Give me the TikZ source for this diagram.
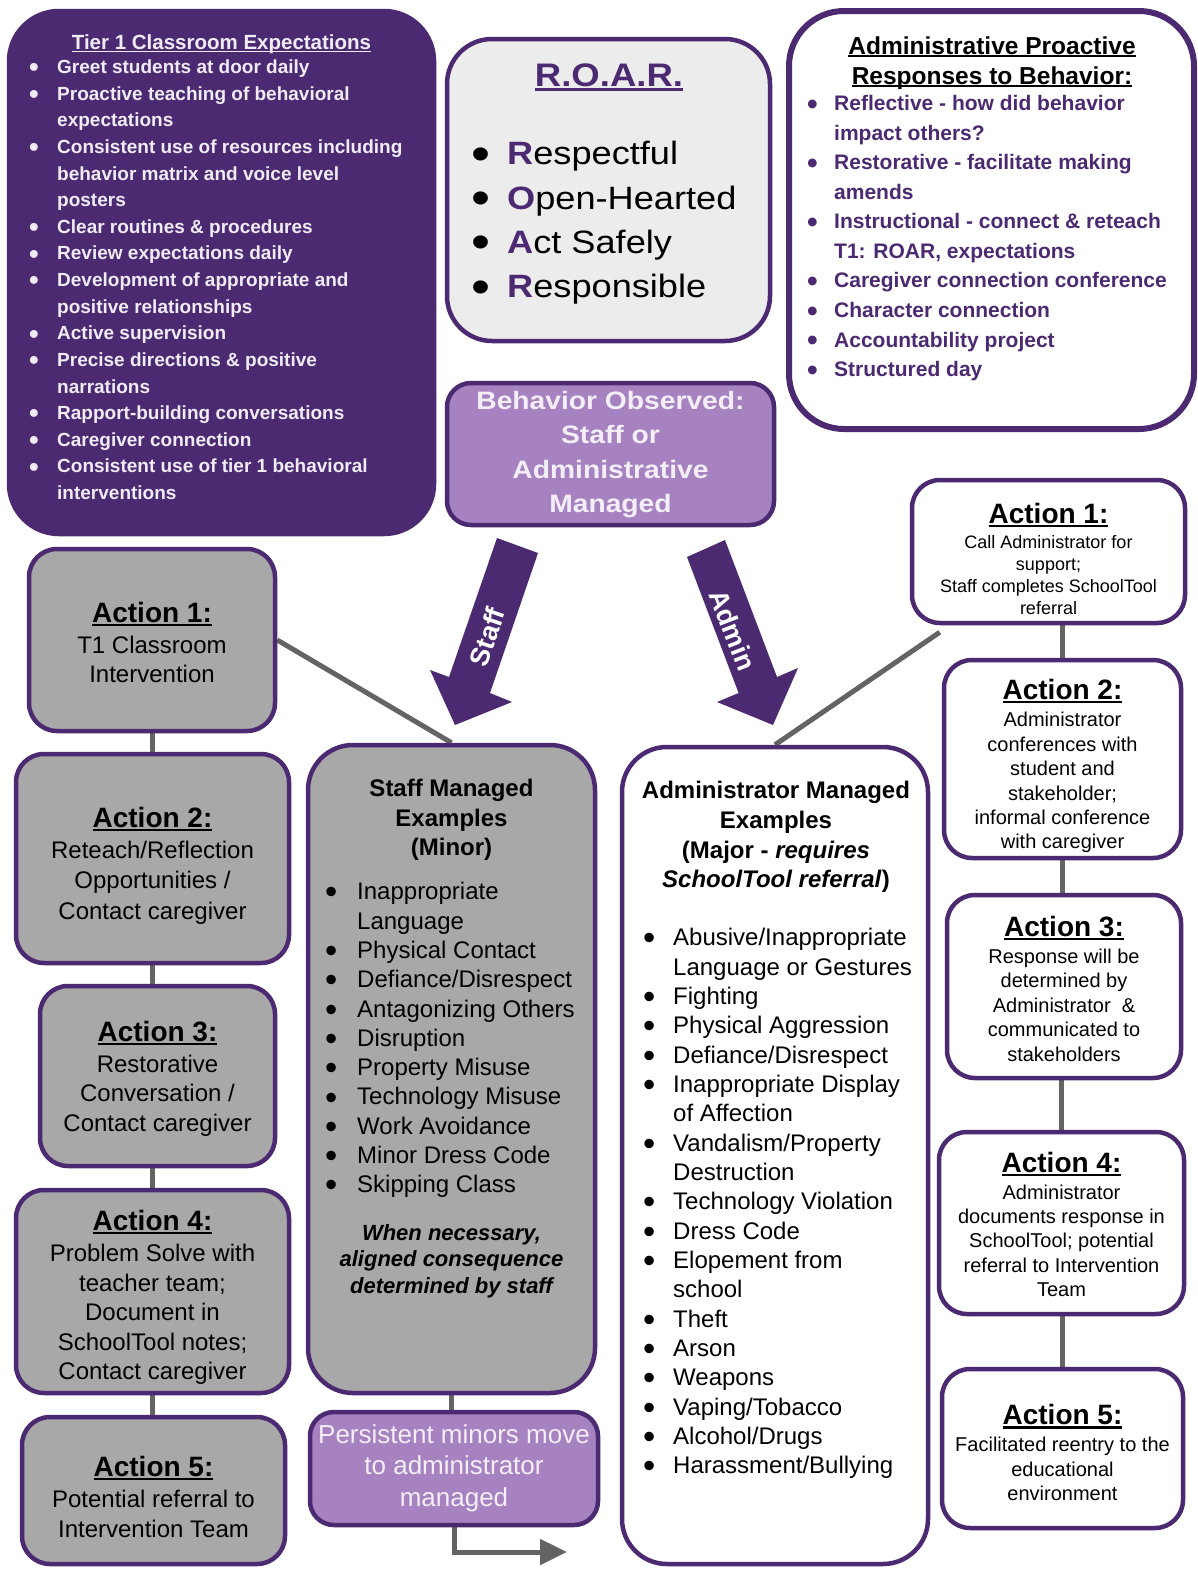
\documentclass[tikz,border=0pt]{standalone}
\usepackage{fontspec}
\setmainfont{Liberation Sans}
\newfontfamily\widefont[FakeStretch=1.12]{Liberation Sans}
\usetikzlibrary{arrows.meta,backgrounds}

\definecolor{roarpurple}{RGB}{76,42,114}
\definecolor{lilac}{RGB}{166,131,192}
\definecolor{lilactext}{RGB}{244,238,248}
\definecolor{tiertext}{RGB}{240,236,246}
\definecolor{boxgray}{RGB}{168,168,168}
\definecolor{roargray}{RGB}{236,236,236}
\definecolor{linkgray}{RGB}{100,100,100}

\newcommand{\fsz}[2]{\fontsize{#1}{#2}\selectfont}
\newsavebox{\undlbox}
\newcommand{\undl}[1]{\sbox{\undlbox}{#1}\rlap{\rule[-0.13em]{\wd\undlbox}{0.075em}}\usebox{\undlbox}}
\newlength{\itmw}
\newcommand{\bulscale}{1.45}
\newcommand{\itm}{\strut\makebox[\itmw][l]{\raisebox{-0.17em}{\scalebox{\bulscale}{\textbullet}}}}
\newcommand{\itmc}{\strut\hspace*{\itmw}}
\newcommand{\roarl}[1]{{\bfseries\color{roarpurple}#1}}
\newcommand{\acttitle}[2][36pt]{{\fsz{28}{30}\bfseries\rule{0pt}{#1}\undl{#2}}}

\tikzset{
  box/.style={draw=roarpurple, line width=4.5pt, rounded corners=28pt, inner sep=0pt, align=center},
  graybox/.style={box, fill=boxgray, font=\fsz{24}{29.5}},
  whitebox/.style={box, fill=white, font=\fsz{20}{24.4}},
  lilacbox/.style={box, fill=lilac, text=lilactext, rounded corners=24pt},
  txt/.style={inner sep=0pt},
  link/.style={draw=linkgray, line width=5pt},
  fatarrow/.style={fill=roarpurple},
  arrowlabel/.style={text=white, font=\bfseries\fsz{27}{30}}
}

\begin{document}
\begin{tikzpicture}[x=1pt, y=-1pt]
\useasboundingbox (0,0) rectangle (1197,1569);

% top row
\node[box, fill=roarpurple, rounded corners=50pt, minimum width=425pt, minimum height=523pt] (tier) at (221.5,272.5) {};
\node[txt, anchor=base, text=tiertext, font=\bfseries\fsz{20.5}{26.6}] (tiertitle) at (221.5,49.5) {\undl{Tier 1 Classroom Expectations}};
\node[txt, anchor=north west, align=left, text=tiertext, font={\bfseries\fsz{19}{26.63}\setlength{\itmw}{28pt}}] (tierlist) at (29,54.7) {
  \itm Greet students at door daily\\
  \itm Proactive teaching of behavioral\\
  \itmc expectations\\
  \itm Consistent use of resources including\\
  \itmc behavior matrix and voice level\\
  \itmc posters\\
  \itm Clear routines \& procedures\\
  \itm Review expectations daily\\
  \itm Development of appropriate and\\
  \itmc positive relationships\\
  \itm Active supervision\\
  \itm Precise directions \& positive\\
  \itmc narrations\\
  \itm Rapport-building conversations\\
  \itm Caregiver connection\\
  \itm Consistent use of tier 1 behavioral\\
  \itmc interventions};

\node[box, fill=roargray, rounded corners=45pt, minimum width=323pt, minimum height=302pt] (roar) at (608.5,190) {};
\node[txt, anchor=base, text=roarpurple, font=\widefont\bfseries\fsz{32.6}{36}] (roartitle) at (609,86.7) {\undl{R.O.A.R.}};
\node[txt, anchor=north west, align=left, font={\widefont\fsz{32.3}{44.3}\setlength{\itmw}{36pt}\renewcommand{\bulscale}{1.5}}] (roarlist) at (471,133.6) {
  \itm\roarl{R}espectful\\
  \itm\roarl{O}pen-Hearted\\
  \itm\roarl{A}ct Safely\\
  \itm\roarl{R}esponsible};

\node[box, fill=white, line width=6pt, rounded corners=55pt, minimum width=405pt, minimum height=418pt] (proact) at (991.5,220) {};
\node[txt, anchor=north, align=center, font=\bfseries\fsz{24.5}{30}] (proacttitle) at (992,32.8) {\strut\undl{Administrative Proactive}\\ \strut\undl{Responses to Behavior:}};
\node[txt, anchor=north west, align=left, text=roarpurple, font={\bfseries\fsz{21}{29.55}\setlength{\itmw}{27pt}}] (proactlist) at (807,89.8) {
  \itm Reflective - how did behavior\\
  \itmc impact others?\\
  \itm Restorative - facilitate making\\
  \itmc amends\\
  \itm Instructional - connect \& reteach\\
  \itmc T1: ROAR, expectations\\
  \itm Caregiver connection conference\\
  \itm Character connection\\
  \itm Accountability project\\
  \itm Structured day};

\node[lilacbox, minimum width=327pt, minimum height=142pt, font=\widefont\bfseries\fsz{25.2}{34.3}] (obs) at (610.5,454) {\strut Behavior Observed:\\ \strut Staff or\\ \strut Administrative\\ \strut Managed};

% staff / admin arrows
\fill[fatarrow] (497,538) -- (449,677) -- (430,670) -- (455,725) -- (512,702) -- (490,693) -- (538,553) -- cycle;
\node[arrowlabel, rotate=71] (stafflbl) at (487,637) {Staff};
\fill[fatarrow] (687,557) -- (738.6,693) -- (717,702) -- (773,725) -- (798,668) -- (777,677) -- (725,540) -- cycle;
\node[arrowlabel, rotate=-69] (adminlbl) at (733,630) {Admin};

% staff column
\node[graybox, minimum width=246pt, minimum height=182pt] (a1) at (152,640) {\acttitle[34pt]{Action 1:}\\[1.5pt] \strut T1 Classroom\\ \strut Intervention};
\node[graybox, minimum width=273pt, minimum height=209pt] (a2) at (152.5,858.5) {\acttitle[38pt]{Action 2:}\\[2pt] \strut Reteach/Reflection\\[0.8pt] \strut Opportunities /\\[0.8pt] \strut Contact caregiver};
\node[graybox, minimum width=235pt, minimum height=180pt] (a3) at (157.5,1076) {\acttitle[29pt]{Action 3:}\\[1.5pt] \strut Restorative\\ \strut Conversation /\\ \strut Contact caregiver};
\node[graybox, minimum width=273pt, minimum height=203pt] (a4) at (152.5,1291.5) {\acttitle[36pt]{Action 4:}\\[1.5pt] \strut Problem Solve with\\ \strut teacher team;\\ \strut Document in\\ \strut SchoolTool notes;\\ \strut Contact caregiver};
\node[graybox, minimum width=263pt, minimum height=147pt] (a5) at (153.5,1490.5) {\acttitle[42pt]{Action 5:}\\[1.5pt] \strut Potential referral to\\ \strut Intervention Team};

\node[graybox, rounded corners=45pt, minimum width=287pt, minimum height=648pt] (staff) at (451.5,1069) {};
\node[txt, anchor=north, align=center, font=\bfseries\fsz{24}{29.5}] (stafftitle) at (451.5,776) {\strut Staff Managed\\ \strut Examples\\ \strut (Minor)};
\node[txt, anchor=north west, align=left, font={\fsz{24}{29.3}\setlength{\itmw}{32pt}}] (stafflist) at (325,879.1) {
  \itm Inappropriate\\
  \itmc Language\\
  \itm Physical Contact\\
  \itm Defiance/Disrespect\\
  \itm Antagonizing Others\\
  \itm Disruption\\
  \itm Property Misuse\\
  \itm Technology Misuse\\
  \itm Work Avoidance\\
  \itm Minor Dress Code\\
  \itm Skipping Class};
\node[txt, anchor=north, align=center, font=\bfseries\itshape\fsz{22}{26.5}] (staffnote) at (451.5,1221.4) {\strut When necessary,\\ \strut aligned consequence\\ \strut determined by staff};

\node[lilacbox, minimum width=288pt, minimum height=113pt, font=\fsz{26}{31.5}] (pers) at (454,1468.5) {\strut Persistent minors move\\ \strut to administrator\\ \strut managed};
\coordinate (persend) at (567,1552);

% admin column
\node[box, fill=white, rounded corners=45pt, minimum width=306pt, minimum height=817pt] (adm) at (775,1155.5) {};
\node[txt, anchor=north, align=center, font=\bfseries\fsz{24}{29.6}] (admtitle) at (776,778) {\strut Administrator Managed\\ \strut Examples\\ \strut (Major - \textit{requires}\\ \strut \textit{SchoolTool referral})};
\node[txt, anchor=north west, align=left, font={\fsz{24}{29.33}\setlength{\itmw}{30pt}}] (admlist) at (643,925.1) {
  \itm Abusive/Inappropriate\\
  \itmc Language or Gestures\\
  \itm Fighting\\
  \itm Physical Aggression\\
  \itm Defiance/Disrespect\\
  \itm Inappropriate Display\\
  \itmc of Affection\\
  \itm Vandalism/Property\\
  \itmc Destruction\\
  \itm Technology Violation\\
  \itm Dress Code\\
  \itm Elopement from\\
  \itmc school\\
  \itm Theft\\
  \itm Arson\\
  \itm Weapons\\
  \itm Vaping/Tobacco\\
  \itm Alcohol/Drugs\\
  \itm Harassment/Bullying};

\node[whitebox, minimum width=273pt, minimum height=143pt, font=\fsz{18}{22}] (r1) at (1048.5,551.5) {\acttitle[42pt]{Action 1:}\\[3pt] \strut Call Administrator for\\ \strut support;\\ \strut Staff completes SchoolTool\\ \strut referral};
\node[whitebox, minimum width=237pt, minimum height=198pt] (r2) at (1062.5,759) {\acttitle[38pt]{Action 2:}\\[2.6pt] \strut Administrator\\ \strut conferences with\\ \strut student and\\ \strut stakeholder;\\ \strut informal conference\\ \strut with caregiver};
\node[whitebox, minimum width=234pt, minimum height=183pt] (r3) at (1064,986.5) {\acttitle[32pt]{Action 3:}\\[2.6pt] \strut Response will be\\ \strut determined by\\ \strut Administrator~~\&\\ \strut communicated to\\ \strut stakeholders};
\node[whitebox, minimum width=245pt, minimum height=182pt] (r4) at (1061.5,1223) {\acttitle[30pt]{Action 4:}\\[2.6pt] \strut Administrator\\ \strut documents response in\\ \strut SchoolTool; potential\\ \strut referral to Intervention\\ \strut Team};
\node[whitebox, minimum width=241pt, minimum height=159pt] (r5) at (1062.5,1448.5) {\acttitle[36pt]{Action 5:}\\[2.6pt] \strut Facilitated reentry to the\\ \strut educational\\ \strut environment};

% connectors
\begin{scope}[on background layer]
  \fill[white] (0,0) rectangle (1197,1569);
  \draw[link] (a1.south) -- (a1.south |- a2.north);
  \draw[link] (a2.south) -- (a2.south |- a3.north);
  \draw[link] (a4.north) -- (a4.north |- a3.south);
  \draw[link] (a4.south) -- (a4.south |- a5.north);
  \draw[link] (a1.east) -- (staff.north);
  \draw[link] (staff.south) -- (staff.south |- pers.north);
  \draw[link, -{Triangle[length=27pt,width=25pt]}] (pers.south) |- (persend);
  \draw[link] ([xshift=30pt,yshift=-7pt]r1.south west) -- (adm.north);
  \draw[link] (r2.north) -- (r2.north |- r1.south);
  \draw[link] (r2.south) -- (r2.south |- r3.north);
  \draw[link] (r4.north) -- (r4.north |- r3.south);
  \draw[link] (r5.north) -- (r5.north |- r4.south);
\end{scope}
\end{tikzpicture}
\end{document}
